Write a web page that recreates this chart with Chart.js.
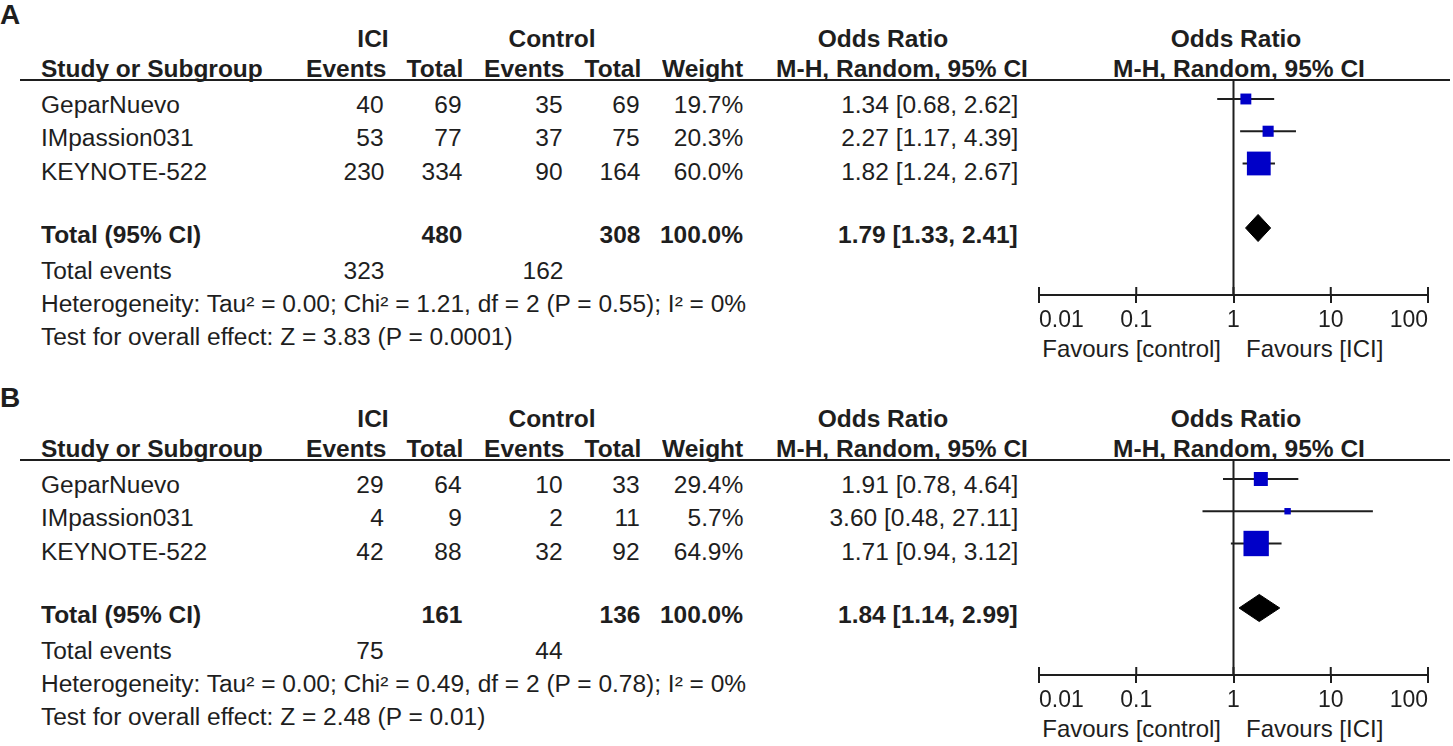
<!DOCTYPE html>
<html>
<head>
<meta charset="utf-8">
<script src="https://cdn.jsdelivr.net/npm/chart.js@4.4.1/dist/chart.umd.min.js"></script>
<style>
  body { margin: 0; background: #fff; }
  #page { position: relative; width: 1453px; height: 746px; overflow: hidden;
          font-family: "Liberation Sans", Arial, sans-serif; color: #1e1e1e; }
  .t { position: absolute; white-space: nowrap; line-height: 1; }
  .b { font-weight: bold; }
  .rule { position: absolute; height: 2px; background: #1e1e1e; }
  canvas { position: absolute; }
</style>
</head>
<body>
<div id="page"></div>
<script>
// shared
const studies = ['GeparNuevo', 'IMpassion031', 'KEYNOTE-522'];
const tickValues = [0.01, 0.1, 1, 10, 100];
const tickLabels = ['0.01', '0.1', '1', '10', '100'];

// panel A
const aIciEvents = [40, 53, 230];
const aIciTotal = [69, 77, 334];
const aCtrlEvents = [35, 37, 90];
const aCtrlTotal = [69, 75, 164];
const aWeight = [19.7, 20.3, 60.0];
const aOr = [1.34, 2.27, 1.82];
const aLo = [0.68, 1.17, 1.24];
const aHi = [2.62, 4.39, 2.67];
const aTotals = [480, 308];
const aTotalEvents = [323, 162];
const aPooled = [1.79, 1.33, 2.41];
const aHet = 'Heterogeneity: Tau² = 0.00; Chi² = 1.21, df = 2 (P = 0.55); I² = 0%';
const aTest = 'Test for overall effect: Z = 3.83 (P = 0.0001)';

// panel B
const bIciEvents = [29, 4, 42];
const bIciTotal = [64, 9, 88];
const bCtrlEvents = [10, 2, 32];
const bCtrlTotal = [33, 11, 92];
const bWeight = [29.4, 5.7, 64.9];
const bOr = [1.91, 3.60, 1.71];
const bLo = [0.78, 0.48, 0.94];
const bHi = [4.64, 27.11, 3.12];
const bTotals = [161, 136];
const bTotalEvents = [75, 44];
const bPooled = [1.84, 1.14, 2.99];
const bHet = 'Heterogeneity: Tau² = 0.00; Chi² = 0.49, df = 2 (P = 0.78); I² = 0%';
const bTest = 'Test for overall effect: Z = 2.48 (P = 0.01)';

const panels = [
  { label: 'A', dy: 0, iciE: aIciEvents, iciT: aIciTotal, ctlE: aCtrlEvents, ctlT: aCtrlTotal,
    weight: aWeight, or: aOr, lo: aLo, hi: aHi, totals: aTotals, events: aTotalEvents,
    pooled: aPooled, het: aHet, test: aTest },
  { label: 'B', dy: 380, iciE: bIciEvents, iciT: bIciTotal, ctlE: bCtrlEvents, ctlT: bCtrlTotal,
    weight: bWeight, or: bOr, lo: bLo, hi: bHi, totals: bTotals, events: bTotalEvents,
    pooled: bPooled, het: bHet, test: bTest }
];

const INK = '#1e1e1e';
const FS = 23, SX = 1.065;
const page = document.getElementById('page');

function put(text, x, base, align, bold, fs, sx) {
  fs = fs || FS; sx = sx || SX;
  const d = document.createElement('div');
  d.className = 't' + (bold ? ' b' : '');
  d.textContent = text;
  d.style.fontSize = fs + 'px';
  d.style.top = (base - 0.8465 * fs) + 'px';
  if (align === 'left') {
    d.style.left = x + 'px'; d.style.transformOrigin = 'left'; d.style.transform = 'scaleX(' + sx + ')';
  } else if (align === 'right') {
    d.style.right = (1453 - x) + 'px'; d.style.transformOrigin = 'right'; d.style.transform = 'scaleX(' + sx + ')';
  } else {
    d.style.left = x + 'px'; d.style.transform = 'translateX(-50%) scaleX(' + sx + ')';
  }
  page.appendChild(d);
}

const ciText = (v, l, h) => v.toFixed(2) + ' [' + l.toFixed(2) + ', ' + h.toFixed(2) + ']';

// column anchors
const colName = 41, colIciE = 384, colIciT = 462, colCtlE = 563, colCtlT = 640, colW = 743, colOr = 1018;

function drawTable(p) {
  const o = p.dy;
  put(p.label, 0, 25 + o + (o ? 3 : 0), 'left', true, 28, 1);
  put('ICI', 373, 47 + o, 'center', true);
  put('Control', 552, 47 + o, 'center', true);
  put('Odds Ratio', 883, 47 + o, 'center', true);
  put('Odds Ratio', 1236, 47 + o, 'center', true);
  put('Study or Subgroup', colName, 77.5 + o, 'left', true);
  put('Events', colIciE + 2, 77.5 + o, 'right', true);
  put('Total', colIciT + 1, 77.5 + o, 'right', true);
  put('Events', colCtlE + 1, 77.5 + o, 'right', true);
  put('Total', colCtlT + 1, 77.5 + o, 'right', true);
  put('Weight', colW, 77.5 + o, 'right', true);
  put('M-H, Random, 95% CI', 902, 77.5 + o, 'center', true);
  put('M-H, Random, 95% CI', 1239, 77.5 + o, 'center', true);

  const rule = document.createElement('div');
  rule.className = 'rule';
  rule.style.left = '20px'; rule.style.width = '1430px'; rule.style.top = (79 + o) + 'px';
  page.appendChild(rule);

  const rowBase = [113.5, 146.5, 180];
  studies.forEach((s, i) => {
    const y = rowBase[i] + o;
    put(s, colName, y, 'left');
    put(String(p.iciE[i]), colIciE, y, 'right');
    put(String(p.iciT[i]), colIciT, y, 'right');
    put(String(p.ctlE[i]), colCtlE, y, 'right');
    put(String(p.ctlT[i]), colCtlT, y, 'right');
    put(p.weight[i].toFixed(1) + '%', colW, y, 'right');
    put(ciText(p.or[i], p.lo[i], p.hi[i]), colOr, y, 'right');
  });

  put('Total (95% CI)', colName, 243 + o, 'left', true);
  put(String(p.totals[0]), colIciT, 243 + o, 'right', true);
  put(String(p.totals[1]), colCtlT, 243 + o, 'right', true);
  put('100.0%', colW, 243 + o, 'right', true);
  put(ciText(p.pooled[0], p.pooled[1], p.pooled[2]), colOr, 243 + o, 'right', true);

  put('Total events', colName, 279 + o, 'left');
  put(String(p.events[0]), colIciE, 279 + o, 'right');
  put(String(p.events[1]), colCtlE, 279 + o, 'right');
  put(p.het, colName, 312 + o, 'left');
  put(p.test, colName, 345 + o, 'left');

  put('Favours [control]', 1221, 357 + o, 'right', false, 24, 1);
  put('Favours [ICI]', 1246, 357 + o, 'left', false, 24, 1);
}

// upper half of the axis tick marks
const tickStubs = {
  id: 'tickStubs',
  afterDraw(chart) {
    const sx = chart.scales.x, ctx = chart.ctx, yb = chart.chartArea.bottom;
    ctx.save();
    ctx.strokeStyle = INK; ctx.lineWidth = 2;
    tickValues.forEach(v => {
      const px = sx.getPixelForValue(v);
      ctx.beginPath(); ctx.moveTo(px, yb - 8); ctx.lineTo(px, yb); ctx.stroke();
    });
    ctx.restore();
  }
};

const Y_MIN = 0.411, Y_MAX = 7.078, TOTAL_ROW = 5, DIAMOND_H = 0.42;

function drawForest(p) {
  const canvas = document.createElement('canvas');
  canvas.width = 453; canvas.height = 320;
  canvas.style.left = '1000px'; canvas.style.top = (60 + p.dy) + 'px';
  page.appendChild(canvas);

  const datasets = [];
  datasets.push({
    data: p.or.map((v, i) => ({ x: v, y: i + 1 })),
    pointStyle: 'rect',
    pointRadius: c => (4.6 + 0.32 * p.weight[c.dataIndex]) / 2 / Math.SQRT1_2,
    pointBackgroundColor: '#0000c8',
    pointBorderWidth: 0,
    showLine: false,
    order: 0
  });
  const [pe, pl, ph] = p.pooled;
  datasets.push({
    data: [
      { x: pl, y: TOTAL_ROW }, { x: pe, y: TOTAL_ROW - DIAMOND_H },
      { x: ph, y: TOTAL_ROW }, { x: pe, y: TOTAL_ROW + DIAMOND_H }, { x: pl, y: TOTAL_ROW }
    ],
    showLine: true, fill: 'shape', tension: 0,
    backgroundColor: '#000', borderColor: '#000', borderWidth: 1,
    pointRadius: 0, order: 0
  });
  p.lo.forEach((l, i) => {
    datasets.push({
      data: [{ x: l, y: i + 1 }, { x: p.hi[i], y: i + 1 }],
      showLine: true, borderColor: INK, borderWidth: 2, pointRadius: 0, order: 1
    });
  });
  datasets.push({
    data: [{ x: 1, y: Y_MIN }, { x: 1, y: Y_MAX }],
    showLine: true, borderColor: INK, borderWidth: 2, pointRadius: 0, order: 2
  });

  new Chart(canvas, {
    type: 'scatter',
    data: { datasets },
    options: {
      responsive: false,
      animation: false,
      events: [],
      layout: { padding: { left: 39, right: 25, top: 20, bottom: 40 } },
      plugins: { legend: { display: false }, tooltip: { enabled: false } },
      scales: {
        x: {
          type: 'logarithmic', min: 0.01, max: 100,
          afterBuildTicks: s => { s.ticks = tickValues.map(v => ({ value: v })); },
          afterFit: s => { s.height = 45; },
          border: { display: true, color: INK, width: 2 },
          grid: { drawOnChartArea: false, drawTicks: true, tickLength: 8, color: INK, lineWidth: 2 },
          ticks: {
            align: 'inner', padding: 4, color: INK, autoSkip: false, maxRotation: 0,
            font: { family: 'Liberation Sans', size: 23 },
            callback: (v, i) => tickLabels[i]
          }
        },
        y: { type: 'linear', min: Y_MIN, max: Y_MAX, reverse: true, display: false }
      }
    },
    plugins: [tickStubs]
  });
}

panels.forEach(p => { drawTable(p); drawForest(p); });
</script>
</body>
</html>
